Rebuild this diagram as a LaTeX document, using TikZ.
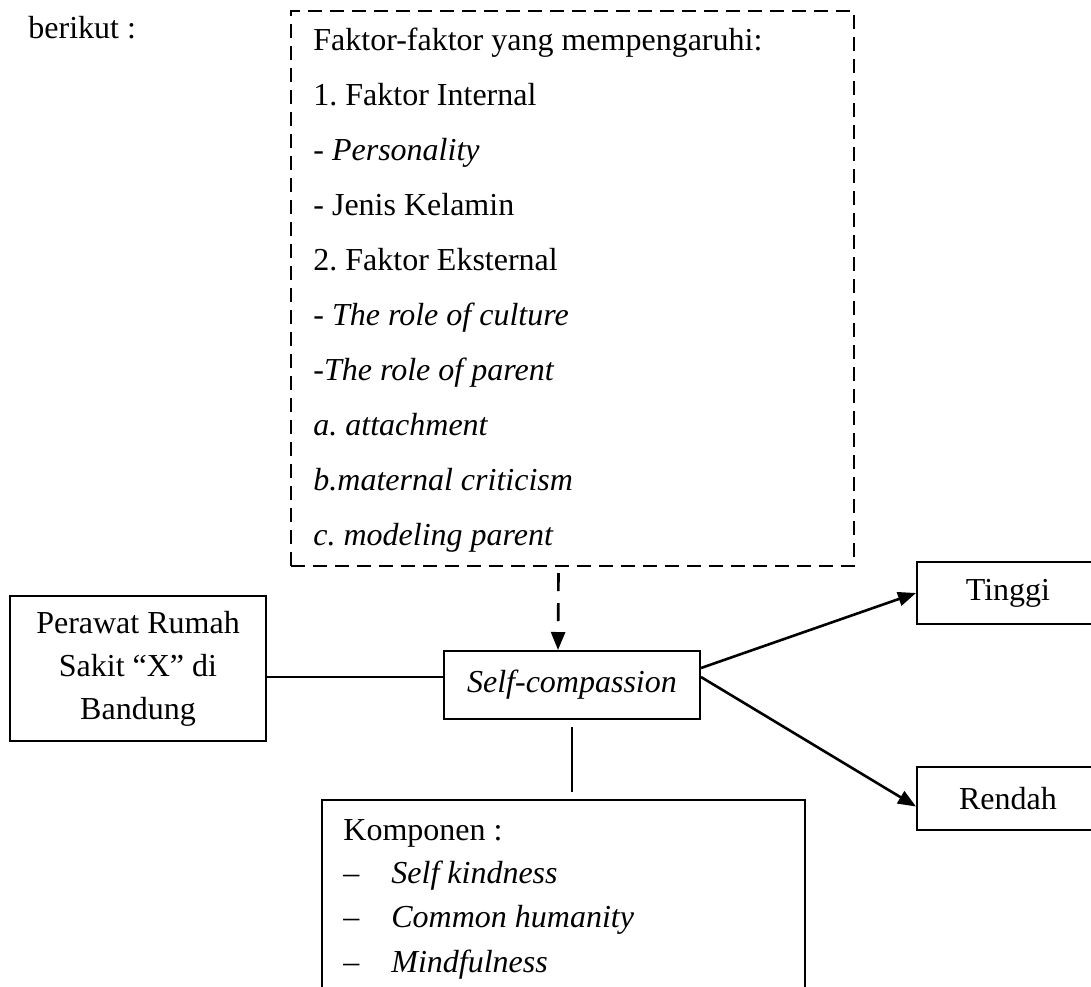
\documentclass[tikz,border=0pt]{standalone}
\usepackage{fontspec}
\setmainfont{Liberation Serif}
\usetikzlibrary{positioning,arrows.meta}

\tikzset{
  box/.style={draw, line width=1pt, inner sep=0pt},
  dashbox/.style={draw, line width=1pt, dash pattern=on 7pt off 4pt, inner sep=0pt},
  txt/.style={anchor=base west, inner sep=0pt},
  link/.style={line width=1pt},
  arr/.style={line width=1.3pt, -{Triangle[length=9pt,width=7pt]}},
}

\begin{document}
\frenchspacing
\begin{tikzpicture}[x=0.5pt, y=-0.5pt, every node/.style={font=\fontsize{16}{21.5}\selectfont}]
      \clip (0,0) rectangle (1091,986);
      % boxes
      \node [dashbox, minimum width=281.5pt, minimum height=277.5pt] (faktor) at (572.5, 288.5) {};
      \node [box, minimum width=128pt, minimum height=72.5pt, align=center] (perawat) at (138.0, 668.5)
            {Perawat Rumah\\Sakit ``X'' di\\Bandung};
      \node [box, minimum width=128pt, minimum height=34pt] (self) at (572.0, 685.0) {\textit{Self-compassion}};
      \node [box, minimum width=91pt, minimum height=31pt] (tinggi) at (1008.0, 593.0) {Tinggi};
      \node [box, minimum width=91pt, minimum height=31.5pt] (rendah) at (1008.0, 798.5) {Rendah};
      \node [box, anchor=north, minimum width=241.5pt, minimum height=120pt] (komp) at (563.5, 799.0) {};
      % texts
      \node [txt] (berikut) at ( 28.0,  38.0) {berikut :};
      \node [txt] (f1)  at (313.0,  50.0) {Faktor-faktor yang mempengaruhi:};
      \node [txt] (f2)  at (313.0, 105.0) {1. Faktor Internal};
      \node [txt] (f3)  at (313.0, 160.0) {- \textit{Personality}};
      \node [txt] (f4)  at (313.0, 215.0) {- Jenis Kelamin};
      \node [txt] (f5)  at (313.0, 270.0) {2. Faktor Eksternal};
      \node [txt] (f6)  at (313.0, 325.0) {\textit{- The role of culture}};
      \node [txt] (f7)  at (313.0, 380.0) {\textit{-The role of parent}};
      \node [txt] (f8)  at (313.0, 435.0) {\textit{a. attachment}};
      \node [txt] (f9)  at (313.0, 490.0) {\textit{b.maternal criticism}};
      \node [txt] (f10) at (313.0, 545.0) {\textit{c. modeling parent}};
      \node [txt] (k0)  at (343.0, 840.0) {Komponen :};
      \node [txt] (d1)  at (343.0, 883.0) {--};
      \node [txt] (k1)  at (391.0, 883.0) {\textit{Self kindness}};
      \node [txt] (d2)  at (343.0, 927.0) {--};
      \node [txt] (k2)  at (391.0, 927.0) {\textit{Common humanity}};
      \node [txt] (d3)  at (343.0, 972.0) {--};
      \node [txt] (k3)  at (391.0, 972.0) {\textit{Mindfulness}};
      \coordinate (kt) at (self.south |- komp.north);
      % connectors
      \draw [link] ([yshift=-4.25pt]perawat.east) -- ([yshift=4pt]self.west);
      \draw [link] ([yshift=-3.5pt]self.south) -- ([yshift=3.5pt]kt);
      \draw [arr, dash pattern=on 9pt off 6pt] ([xshift=-7pt,yshift=-3pt]faktor.south) -- ([xshift=-7pt]self.north);
      \draw [arr] ([yshift=8.5pt]self.east) -- (tinggi.west);
      \draw [arr] ([yshift=4pt]self.east) -- ([yshift=-4pt]rendah.west);
\end{tikzpicture}
\end{document}
